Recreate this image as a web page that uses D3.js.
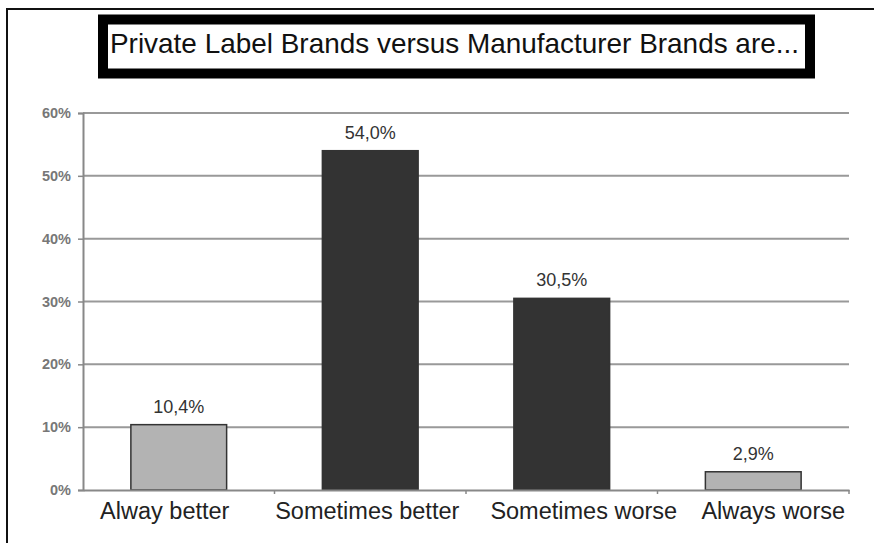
<!DOCTYPE html>
<html>
<head>
<meta charset="utf-8">
<script src="https://cdn.jsdelivr.net/npm/d3@7"></script>
<style>
  body { margin: 0; background: #fff; }
  svg { display: block; font-family: "Liberation Sans", Arial, sans-serif; }
</style>
</head>
<body>
<div id="chart"></div>
<script>
var categories = ["Alway better", "Sometimes better", "Sometimes worse", "Always worse"];
var values = [10.4, 54.0, 30.5, 2.9];
var valueLabels = ["10,4%", "54,0%", "30,5%", "2,9%"];
var barColors = ["#b3b3b3", "#333333", "#333333", "#b3b3b3"];
var yTicks = [0, 10, 20, 30, 40, 50, 60];
var title = "Private Label Brands versus Manufacturer Brands are...";

var svgWidth = 874;
var svgHeight = 543;

var margin = {
    top: 113,
    right: 25,
    bottom: 53,
    left: 83
};

// the original spreads its category labels a little so they don't touch
var labelNudge = [-14, -3, 22, 20];

var width = svgWidth - margin.left - margin.right;
var height = svgHeight - margin.top - margin.bottom;

var svg = d3.select("#chart")
    .append("svg")
    .attr("width", svgWidth)
    .attr("height", svgHeight);

// outer frame (right and bottom run off the picture)
svg.append("rect")
    .attr("x", 7)
    .attr("y", 9)
    .attr("width", 900)
    .attr("height", 600)
    .attr("fill", "none")
    .attr("stroke", "#111")
    .attr("stroke-width", 2);

// title box
svg.append("rect")
    .attr("x", 103)
    .attr("y", 19.5)
    .attr("width", 707)
    .attr("height", 54)
    .attr("fill", "#fff")
    .attr("stroke", "#000")
    .attr("stroke-width", 10);

svg.append("text")
    .attr("x", 454.5)
    .attr("y", 53)
    .attr("text-anchor", "middle")
    .attr("font-size", "28px")
    .attr("textLength", 689)
    .attr("lengthAdjust", "spacingAndGlyphs")
    .attr("fill", "#111")
    .text(title);

var Group = svg.append("g")
    .attr("transform", `translate(${margin.left}, ${margin.top})`);

var xScale = d3.scaleBand()
    .domain(categories)
    .range([0, width])
    .paddingInner(0.5)
    .paddingOuter(0.25);

var xBand = d3.scaleBand()
    .domain(categories)
    .range([0, width]);

var yScale = d3.scaleLinear()
    .domain([0, 60])
    .range([height, 0]);

// gridlines
Group.append("g")
    .selectAll("line")
    .data(yTicks.slice(1))
    .enter()
    .append("line")
    .attr("x1", 0)
    .attr("x2", width)
    .attr("y1", d => yScale(d))
    .attr("y2", d => yScale(d))
    .attr("stroke", "#999")
    .attr("stroke-width", 2);

// y axis
var yAxis = d3.axisLeft(yScale)
    .tickValues(yTicks)
    .tickSize(5)
    .tickPadding(7)
    .tickFormat(d => d + "%");

var yG = Group.append("g").call(yAxis);
yG.select(".domain").attr("stroke", "#888").attr("stroke-width", 2);
yG.selectAll(".tick line").attr("stroke", "#888").attr("stroke-width", 1.5);
yG.selectAll(".tick text")
    .attr("font-size", "14.5px")
    .attr("font-weight", "bold")
    .attr("fill", "#777")
    .attr("font-family", "Liberation Sans, Arial, sans-serif");

// bars
Group.selectAll("rect.bar")
    .data(values)
    .enter()
    .append("rect")
    .attr("class", "bar")
    .attr("x", (d, i) => xScale(categories[i]))
    .attr("y", d => yScale(d))
    .attr("width", xScale.bandwidth())
    .attr("height", d => height - yScale(d))
    .attr("fill", (d, i) => barColors[i])
    .attr("stroke", "#333")
    .attr("stroke-width", 1.5);

// value labels
Group.selectAll("text.val")
    .data(values)
    .enter()
    .append("text")
    .attr("class", "val")
    .attr("x", (d, i) => xScale(categories[i]) + xScale.bandwidth() / 2)
    .attr("y", d => yScale(d) - 12)
    .attr("text-anchor", "middle")
    .attr("font-size", "18px")
    .attr("fill", "#333")
    .text((d, i) => valueLabels[i]);

// x axis
var xAxis = d3.axisBottom(xBand).tickSize(0).tickPadding(12);
var xG = Group.append("g")
    .attr("transform", `translate(0, ${height})`)
    .call(xAxis);
xG.select(".domain").attr("stroke", "#888").attr("stroke-width", 2);
xG.selectAll(".tick text")
    .attr("font-size", "23.5px")
    .attr("fill", "#222")
    .attr("dx", (d, i) => labelNudge[i])
    .attr("font-family", "Liberation Sans, Arial, sans-serif");

// category separator ticks
xG.selectAll("line.sep")
    .data(categories)
    .enter()
    .append("line")
    .attr("class", "sep")
    .attr("x1", d => xBand(d) + xBand.bandwidth())
    .attr("x2", d => xBand(d) + xBand.bandwidth())
    .attr("y1", 0)
    .attr("y2", 4)
    .attr("stroke", "#888")
    .attr("stroke-width", 1.5);
</script>
</body>
</html>
